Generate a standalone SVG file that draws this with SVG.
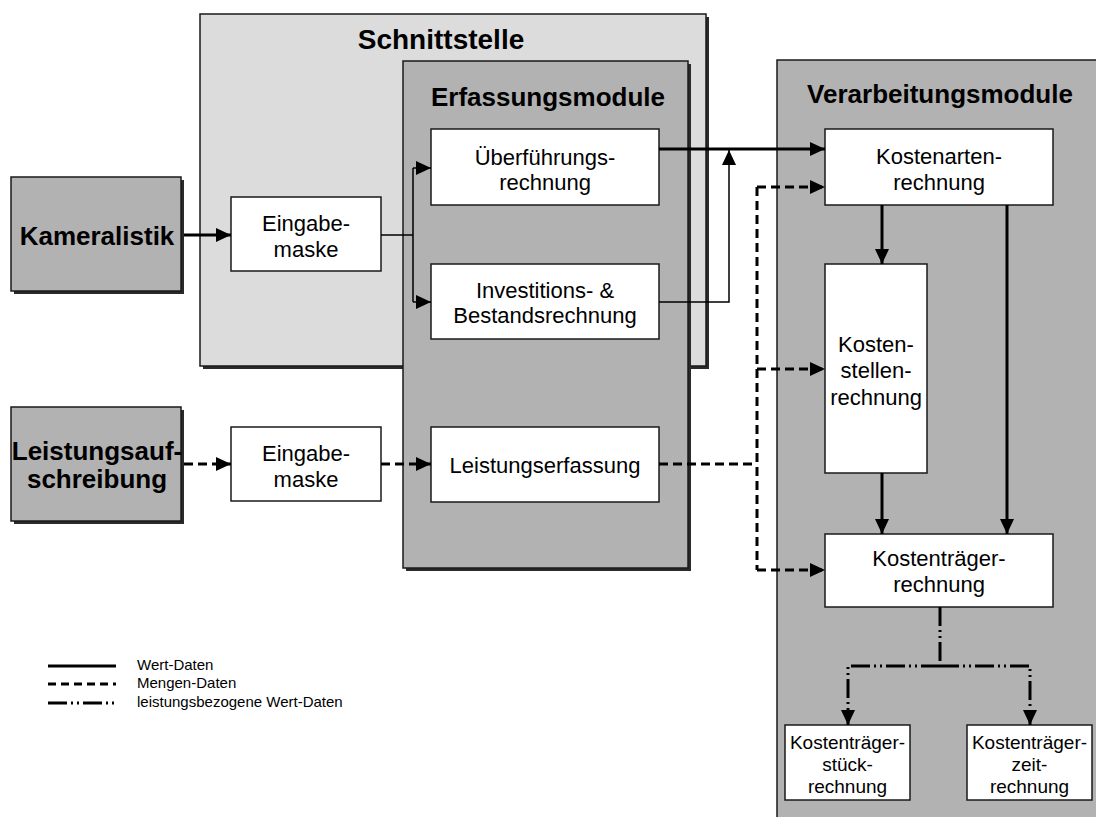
<svg xmlns="http://www.w3.org/2000/svg" width="1096" height="817" viewBox="0 0 1096 817">
  <defs>
    <marker id="arrow" viewBox="0 0 15 14" refX="15" refY="7" markerWidth="15" markerHeight="14" markerUnits="userSpaceOnUse" orient="auto">
      <path d="M0,0 L15,7 L0,14 z" fill="#000"/>
    </marker>
    <style>
      text { font-family: "Liberation Sans", Arial, sans-serif; fill: #000; }
      .title { font-weight: bold; font-size: 26px; text-anchor: middle; }
      .src { font-weight: bold; font-size: 26px; text-anchor: middle; }
      .lbl { font-size: 22px; text-anchor: middle; }
      .small { font-size: 19px; text-anchor: middle; }
      .legend { font-size: 15px; }
      .shadow { fill: #2a2a2a; }
      .light { fill: #dcdcdc; stroke: #1a1a1a; stroke-width: 1.5; }
      .dark { fill: #b2b2b2; stroke: #1a1a1a; stroke-width: 1.5; }
      .box { fill: #fff; stroke: #1a1a1a; stroke-width: 1.5; }
      .wert { fill: none; stroke: #000; stroke-width: 3; }
      .thin { fill: none; stroke: #000; stroke-width: 1.5; }
      .menge { fill: none; stroke: #000; stroke-width: 3; stroke-dasharray: 9 5; }
      .lbw { fill: none; stroke: #000; stroke-width: 3; stroke-dasharray: 19 4 2 4 2 4; }
    </style>
  </defs>

  <!-- Containers -->
  <g id="schnittstelle">
    <rect class="shadow" x="203" y="17" width="506" height="352"/>
    <rect class="light" x="200" y="14" width="506" height="352"/>
    <text class="title" x="441" y="49" style="font-size:28px">Schnittstelle</text>
  </g>
  <g id="erfassungsmodule">
    <rect class="shadow" x="406" y="64" width="285" height="507"/>
    <rect class="dark" x="403" y="61" width="285" height="507"/>
    <text class="title" x="548" y="106">Erfassungsmodule</text>
  </g>
  <g id="verarbeitungsmodule">
    <rect class="dark" x="777" y="60" width="330" height="770"/>
    <text class="title" x="940" y="103">Verarbeitungsmodule</text>
  </g>

  <!-- Sources -->
  <g id="kameralistik">
    <rect class="shadow" x="14" y="180" width="170" height="114"/>
    <rect class="dark" x="11" y="177" width="170" height="114"/>
    <text class="src" x="97" y="245">Kameralistik</text>
  </g>
  <g id="leistungsaufschreibung">
    <rect class="shadow" x="14" y="410" width="170" height="114"/>
    <rect class="dark" x="11" y="407" width="170" height="114"/>
    <text class="src" x="97" y="460">Leistungsauf-</text>
    <text class="src" x="97" y="488">schreibung</text>
  </g>

  <!-- Input masks -->
  <g id="eingabemaske-1">
    <rect class="box" x="231" y="197" width="150" height="74"/>
    <text class="lbl" x="306" y="231">Eingabe-</text>
    <text class="lbl" x="306" y="257">maske</text>
  </g>
  <g id="eingabemaske-2">
    <rect class="box" x="231" y="427" width="150" height="74"/>
    <text class="lbl" x="306" y="461">Eingabe-</text>
    <text class="lbl" x="306" y="487">maske</text>
  </g>

  <!-- Capture modules -->
  <g id="ueberfuehrungsrechnung">
    <rect class="box" x="431" y="129" width="228" height="76"/>
    <text class="lbl" x="545" y="165">Überführungs-</text>
    <text class="lbl" x="545" y="190">rechnung</text>
  </g>
  <g id="investitionsrechnung">
    <rect class="box" x="431" y="264" width="228" height="75"/>
    <text class="lbl" x="545" y="298">Investitions- &amp;</text>
    <text class="lbl" x="545" y="323">Bestandsrechnung</text>
  </g>
  <g id="leistungserfassung">
    <rect class="box" x="431" y="427" width="228" height="75"/>
    <text class="lbl" x="545" y="473">Leistungserfassung</text>
  </g>

  <!-- Processing modules -->
  <g id="kostenartenrechnung">
    <rect class="box" x="825" y="129" width="228" height="76"/>
    <text class="lbl" x="939" y="164">Kostenarten-</text>
    <text class="lbl" x="939" y="190">rechnung</text>
  </g>
  <g id="kostenstellenrechnung">
    <rect class="box" x="825" y="264" width="102" height="209"/>
    <text class="lbl" x="876" y="352">Kosten-</text>
    <text class="lbl" x="876" y="378">stellen-</text>
    <text class="lbl" x="876" y="405">rechnung</text>
  </g>
  <g id="kostentraegerrechnung">
    <rect class="box" x="825" y="534" width="228" height="73"/>
    <text class="lbl" x="939" y="566">Kostenträger-</text>
    <text class="lbl" x="939" y="592">rechnung</text>
  </g>
  <g id="kostentraegerstueckrechnung">
    <rect class="box" x="785" y="725" width="125" height="75"/>
    <text class="small" x="847.5" y="749">Kostenträger-</text>
    <text class="small" x="847.5" y="771">stück-</text>
    <text class="small" x="847.5" y="793">rechnung</text>
  </g>
  <g id="kostentraegerzeitrechnung">
    <rect class="box" x="967" y="725" width="125" height="75"/>
    <text class="small" x="1029.5" y="749">Kostenträger-</text>
    <text class="small" x="1029.5" y="771">zeit-</text>
    <text class="small" x="1029.5" y="793">rechnung</text>
  </g>

  <!-- Connectors -->
  <g id="connectors">
    <!-- Wert-Daten -->
    <path class="wert" d="M184,235 H231" marker-end="url(#arrow)"/>
    <path class="thin" d="M381,235 H413 M413,168 V302"/>
    <path class="thin" d="M413,168 H431" marker-end="url(#arrow)"/>
    <path class="thin" d="M413,302 H431" marker-end="url(#arrow)"/>
    <path class="wert" d="M659,149 H825" marker-end="url(#arrow)"/>
    <path class="thin" d="M659,302 H729 V150" marker-end="url(#arrow)"/>
    <path class="wert" d="M882,205 V264" marker-end="url(#arrow)"/>
    <path class="wert" d="M882,473 V534" marker-end="url(#arrow)"/>
    <path class="wert" d="M1007,205 V534" marker-end="url(#arrow)"/>

    <!-- Mengen-Daten -->
    <path class="menge" d="M184,464 H231" marker-end="url(#arrow)"/>
    <path class="menge" d="M381,464 H431" marker-end="url(#arrow)"/>
    <path class="menge" d="M659,464 H757"/>
    <path class="menge" d="M757,187 V570"/>
    <path class="menge" d="M757,187 H825" marker-end="url(#arrow)"/>
    <path class="menge" d="M757,369 H825" marker-end="url(#arrow)"/>
    <path class="menge" d="M757,570 H825" marker-end="url(#arrow)"/>

    <!-- leistungsbezogene Wert-Daten -->
    <path class="lbw" d="M940,607 V666"/>
    <path class="lbw" d="M940,666 H848 V725" marker-end="url(#arrow)"/>
    <path class="lbw" d="M940,666 H1030 V725" marker-end="url(#arrow)"/>
  </g>

  <!-- Legend -->
  <g id="legend">
    <line class="wert" x1="48" y1="666" x2="116" y2="666"/>
    <line class="menge" x1="48" y1="684" x2="116" y2="684" style="stroke-dasharray:8 5"/>
    <line class="lbw" x1="48" y1="703" x2="116" y2="703"/>
    <text class="legend" x="137" y="670">Wert-Daten</text>
    <text class="legend" x="137" y="688">Mengen-Daten</text>
    <text class="legend" x="137" y="707">leistungsbezogene Wert-Daten</text>
  </g>
</svg>
